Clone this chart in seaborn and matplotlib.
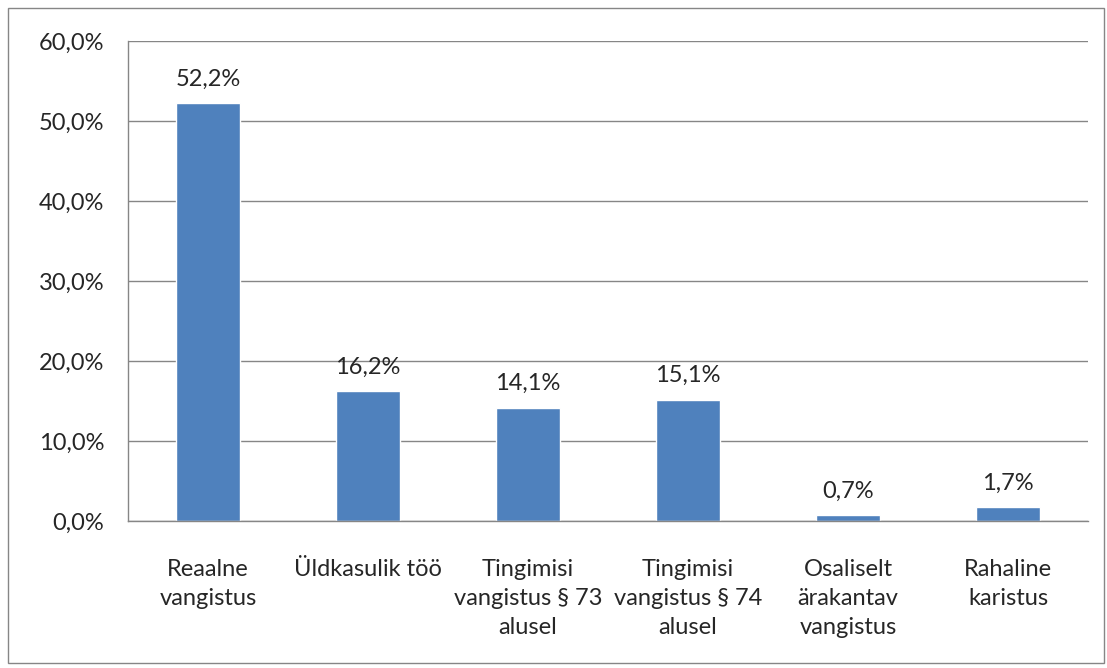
import matplotlib
matplotlib.use("Agg")
from matplotlib import pyplot as plt
from matplotlib.patches import Rectangle
from matplotlib.ticker import FixedLocator
import pandas as pd
import seaborn as sns

categories = ["Reaalne\nvangistus", "Üldkasulik töö", "Tingimisi\nvangistus § 73\nalusel",
              "Tingimisi\nvangistus § 74\nalusel", "Osaliselt\närakantav\nvangistus", "Rahaline\nkaristus"]
values = [52.2, 16.2, 14.1, 15.1, 0.7, 1.7]
yticks = [0, 10, 20, 30, 40, 50, 60]

df = pd.DataFrame({"cat": categories, "val": values})

sns.set_style("white")
plt.rcParams["font.family"] = ["Lato", "DejaVu Sans"]
fs = 17

fig = plt.figure(figsize=(11.07, 6.68), dpi=100)
ax = fig.add_axes([128 / 1107, 147 / 668, 960 / 1107, 480 / 668])
sns.barplot(data=df, x="cat", y="val", color="#4F81BD", saturation=1, width=0.4, ax=ax)

ax.set_ylim(0, 60)
ax.set_xlim(-0.5, len(categories) - 0.5)
ax.set_yticks(yticks)
ax.set_yticklabels([f"{v:.1f}%".replace(".", ",") for v in yticks], fontsize=fs)
ax.yaxis.grid(True, color="#868686", linewidth=1)
ax.set_axisbelow(True)
ax.set_xlabel("")
ax.set_ylabel("")
ax.set_xticks(range(len(categories)))
ax.set_xticklabels(categories, fontsize=fs, linespacing=1.48)
ax.tick_params(axis="x", length=0, pad=27)
ax.xaxis.set_minor_locator(FixedLocator([i - 0.5 for i in range(len(categories) + 1)]))
ax.tick_params(axis="x", which="minor", length=6, color="#868686", width=1, direction="out")
ax.tick_params(axis="y", length=6, color="#868686", width=1, direction="out", pad=11)

for s in ["top", "right"]:
    ax.spines[s].set_visible(False)
for s in ["left", "bottom"]:
    ax.spines[s].set_color("#868686")
    ax.spines[s].set_linewidth(1)

for i, v in enumerate(values):
    ax.annotate(f"{v:.1f}%".replace(".", ","), (i, v), xytext=(0, 10), textcoords="offset points",
                ha="center", va="bottom", fontsize=fs)

fig.patches.append(Rectangle((8 / 1107, 5 / 668), 1096 / 1107, 655 / 668, transform=fig.transFigure,
                             fill=False, edgecolor="#868686", linewidth=1))

fig.savefig("out.png", dpi=100)
